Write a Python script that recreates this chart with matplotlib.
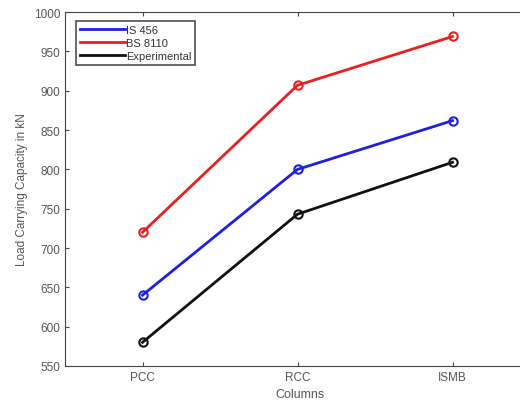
import matplotlib
matplotlib.use('Agg')
import matplotlib.pyplot as plt

columns = ['PCC', 'RCC', 'ISMB']
is456 = [640, 800, 862]
bs8110 = [720, 907, 969]
experimental = [580, 743, 809]

plt.rcParams['font.family'] = ['Liberation Sans', 'DejaVu Sans']

fig = plt.figure(figsize=(5.2, 4.1), dpi=100)
ax = fig.add_axes([0.125, 0.105, 0.905, 0.863])

x = [1, 2, 3]
for vals, col, lab in [(is456, '#1f1fe0', 'IS 456'),
                       (bs8110, '#e82020', 'BS 8110'),
                       (experimental, '#111111', 'Experimental')]:
    ax.plot(x, vals, color=col, lw=2, marker='o', ms=6, mfc='none',
            mew=1.5, label=lab)

ax.set_xlim(0.5, 3.536)
ax.set_ylim(550, 1000)
ax.set_xticks(x)
ax.set_xticklabels(columns)
ax.set_yticks(range(550, 1001, 50))
ax.tick_params(direction='in', top=True, right=False, labelsize=8.5,
               labelcolor='#555555', length=3, color='#444444')
for s in ax.spines.values():
    s.set_color('#444444')
ax.set_xlabel('Columns', fontsize=9, color='#555555')
ax.set_ylabel('Load Carrying Capacity in kN', fontsize=8.5, color='#555555')

leg = ax.legend(loc='upper left', fontsize=8, handlelength=4.0,
                handletextpad=0.15, borderpad=0.35, labelspacing=0.25,
                fancybox=False, edgecolor='#222222', markerscale=0,
                bbox_to_anchor=(0.012, 0.99))
leg.get_frame().set_linewidth(1.2)
for h in leg.legend_handles:
    h.set_marker('')
for t in leg.get_texts():
    t.set_color('#333333')

fig.savefig('out.png', dpi=100)
